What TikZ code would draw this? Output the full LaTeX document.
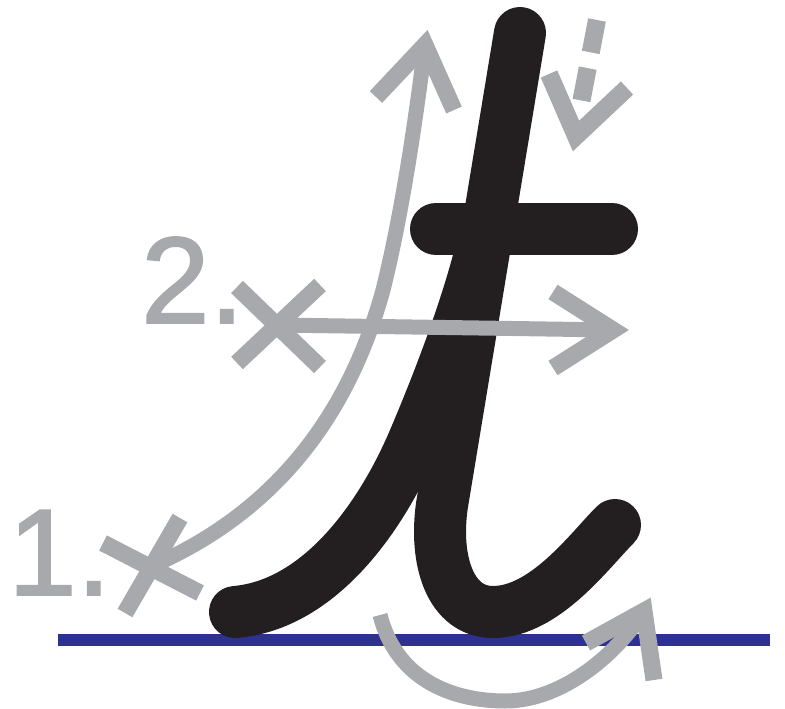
\documentclass[tikz,border=0pt]{standalone}
\usepackage{fontspec}
\setmainfont{Liberation Sans}
\newfontfamily\labelfont{Liberation Sans}[FakeBold=1.6]
\definecolor{guidegrey}{HTML}{A7A9AC}
\definecolor{inkblack}{HTML}{231F20}
\definecolor{baseblue}{HTML}{2E3192}
\begin{document}
\begin{tikzpicture}[x=1pt,y=-1pt,
  inkstroke/.style={draw=inkblack,line width=52,line cap=round,line join=round},
  guide/.style={draw=guidegrey,line width=15},
  guidehead/.style={draw=guidegrey,line width=17,line join=miter,miter limit=10},
  crossmark/.style={draw=guidegrey,line width=17},
  numlabel/.style={text=guidegrey,anchor=base west,inner sep=0,font=\labelfont\fontsize{123}{123}\selectfont}]
\useasboundingbox (0,0) rectangle (785,709);
% baseline
\coordinate (bl) at (58,640);
\coordinate (br) at (770,640);
\draw[draw=baseblue,line width=12] (bl) -- (br);
% black letter
\coordinate (stemtop) at (520,33);
\coordinate (stemlow) at (442,505);
\coordinate (bowl) at (493,612);
\coordinate (hookend) at (615,525);
\draw[inkstroke] (stemtop) -- (stemlow) .. controls (434,560) and (450,612) .. (bowl) .. controls (545,612) and (590,550) .. (hookend);
\coordinate (leadin) at (235,612);
\coordinate (leadmid) at (414,440);
\coordinate (leadend) at (478,262);
\draw[inkstroke] (leadin) .. controls (318,605) and (380,520) .. (leadmid) .. controls (443,372) and (465,310) .. (leadend);
\coordinate (barl) at (436,229);
\coordinate (barr) at (612,229);
\draw[inkstroke] (barl) -- (barr);
% labels
\node[numlabel] (one) at (8,595) {1.};
\node[numlabel] (two) at (141,323) {2.};
% stroke 1
\coordinate (x1) at (152,566);
\draw[crossmark] (103,543) -- (200,593);
\draw[crossmark] (180,518) -- (125,613);
\coordinate (c1mid) at (383,290);
\coordinate (c1tip) at (425,45);
\draw[guide] (x1) .. controls (280,510) and (350,410) .. (c1mid) .. controls (403,210) and (417,110) .. (c1tip);
\draw[guidehead] (376,97) -- (c1tip) -- (454,110);
% stroke 2
\coordinate (x2) at (278,325);
\draw[crossmark] (237,287) -- (320,367);
\draw[crossmark] (320,285) -- (237,363);
\coordinate (c2tip) at (613,330);
\draw[guide] (x2) -- (c2tip);
\draw[guidehead] (553,292) -- (c2tip) -- (553,368);
% stroke 3 (dashed)
\coordinate (d3a) at (597,20);
\coordinate (d3b) at (581,103);
\draw[draw=guidegrey,line width=18,dash pattern=on 33 off 16] (d3a) -- (d3b);
\coordinate (v3) at (576,136);
\draw[guidehead,line width=18] (549,74) -- (v3) -- (627,88);
% stroke 4 (bottom arc)
\coordinate (a4s) at (380,615);
\coordinate (a4b) at (505,701);
\coordinate (a4tip) at (644,611);
\draw[guide] (a4s) .. controls (398,685) and (460,701) .. (a4b) .. controls (565,701) and (620,650) .. (a4tip);
\draw[guidehead] (586,643) -- (a4tip) -- (654,680);
\end{tikzpicture}
\end{document}
